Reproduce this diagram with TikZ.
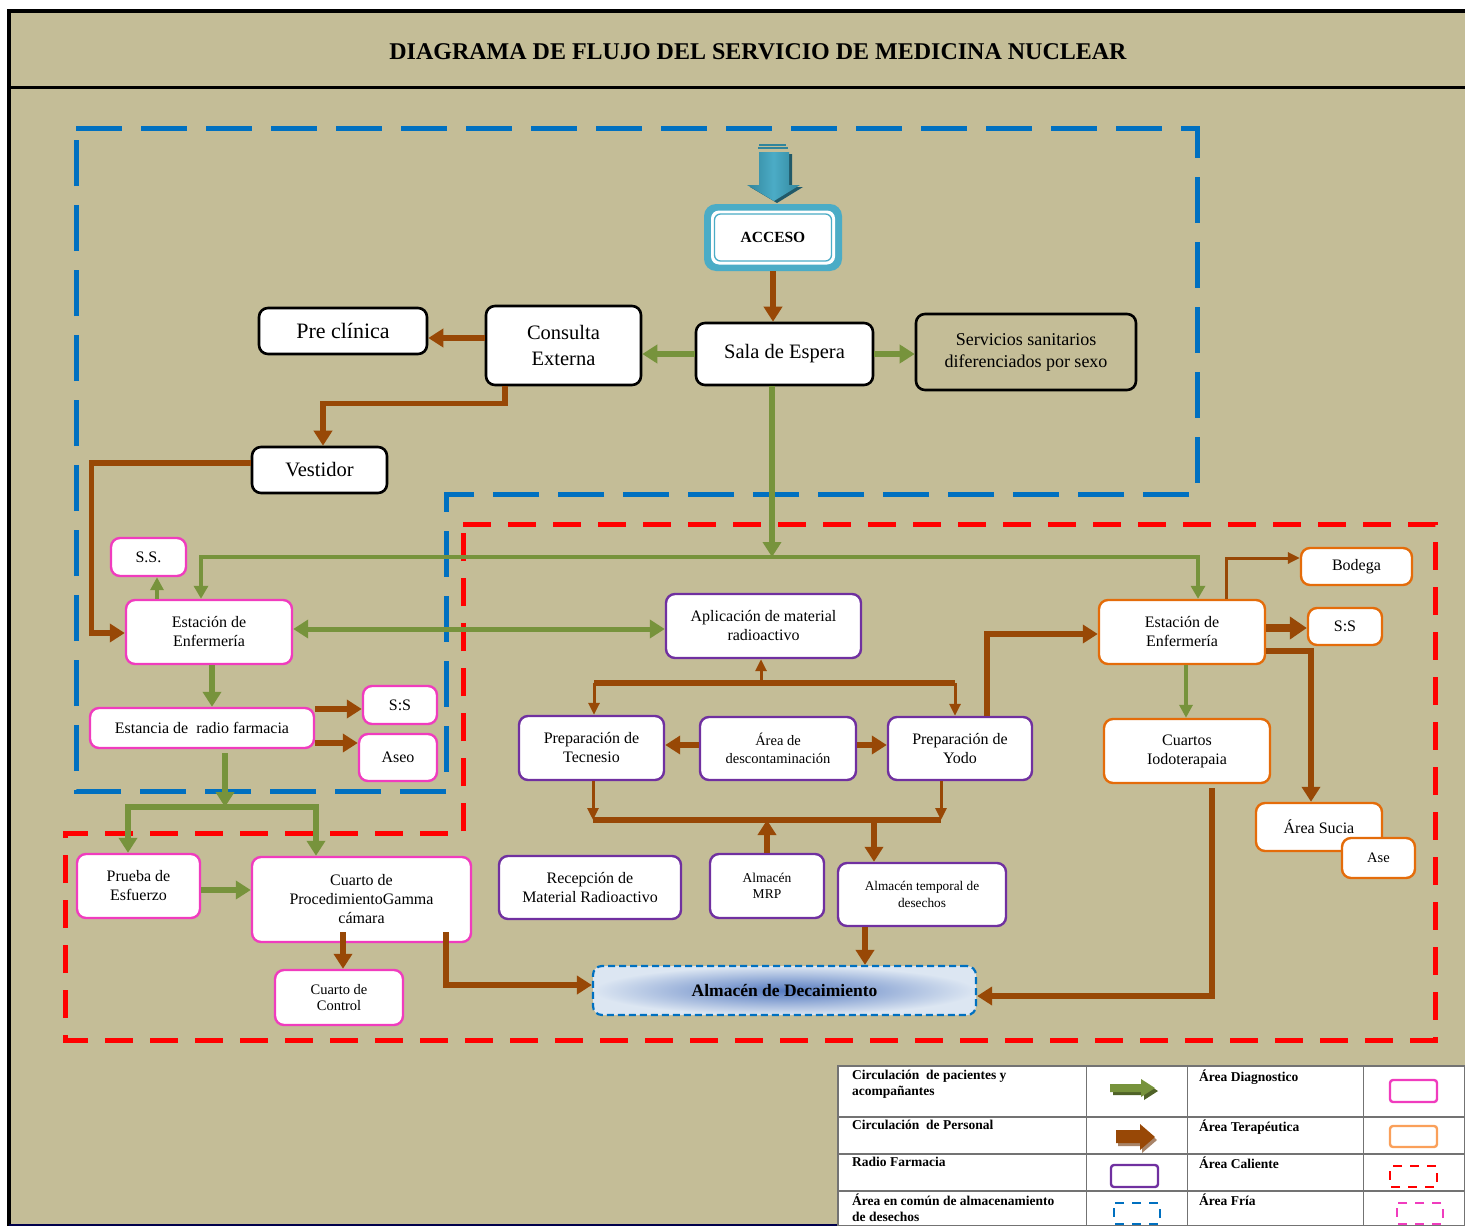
\documentclass[tikz,border=0pt]{standalone}
\usepackage{fontspec}
\setmainfont{Liberation Serif}
\usetikzlibrary{arrows.meta,calc}
\definecolor{bgtan}{RGB}{196,189,151}
\definecolor{cGreen}{RGB}{119,147,60}
\definecolor{cGreenD}{RGB}{79,98,40}
\definecolor{cBrown}{RGB}{152,72,6}
\definecolor{cBrownD}{RGB}{110,50,4}
\definecolor{cPink}{RGB}{240,60,190}
\definecolor{cPurple}{RGB}{112,48,160}
\definecolor{cOrange}{RGB}{228,108,10}
\definecolor{cOrangeL}{RGB}{250,160,90}
\definecolor{cBlue}{RGB}{0,112,192}
\definecolor{tealA}{RGB}{75,172,198}
\definecolor{tealB}{RGB}{49,133,156}
\definecolor{tealC}{RGB}{33,89,104}
\definecolor{decL}{RGB}{220,230,242}
\definecolor{decD}{RGB}{85,122,192}
\newcommand{\fs}[2]{\fontsize{#1}{#2}\selectfont}
\begin{document}
\begin{tikzpicture}[x=1pt,y=-1pt,
  bx/.style={rounded corners=9pt, fill=white, align=center, inner sep=1pt, text=black},
  nBlack/.style={bx, draw=black, line width=2.6pt},
  nPink/.style={bx, draw=cPink, line width=2.4pt, font=\fs{16}{19}},
  nPurple/.style={bx, draw=cPurple, line width=2.4pt, font=\fs{16}{19}},
  nOrange/.style={bx, draw=cOrange, line width=2.4pt, font=\fs{16}{19}},
  wh/.style 2 args={minimum width=#1pt, minimum height=#2pt},
  gT/.style={draw=cGreen, line width=5.5pt, -{Triangle[length=15pt,width=18pt]}},
  gTT/.style={draw=cGreen, line width=5pt, {Triangle[length=15pt,width=18pt]}-{Triangle[length=15pt,width=18pt]}},
  gM/.style={draw=cGreen, line width=4.5pt, -{Triangle[length=13pt,width=14pt]}},
  gS/.style={draw=cGreen, line width=3.8pt, -{Triangle[length=13pt,width=13pt]}},
  bT/.style={draw=cBrown, line width=5.5pt, -{Triangle[length=15pt,width=18pt]}},
  bTT/.style={draw=cBrown, line width=8pt, -{Triangle[length=17pt,width=22pt]}},
  bS/.style={draw=cBrown, line width=3pt, -{Triangle[length=12pt,width=11pt]}},
  bL/.style={draw=cBrown, line width=5.5pt},
  lgt/.style={anchor=north west, align=left, font=\bfseries\fs{13.5}{16}, inner sep=0pt},
  rgnBlue/.style={draw=cBlue, line width=5pt, dash pattern=on 46pt off 19pt},
  rgnRed/.style={draw=red, line width=5pt, dash pattern=on 28pt off 17pt},
]
\useasboundingbox (0,0) rectangle (1465,1226);
\fill[white] (0,0) rectangle (1465,1226);
\fill[bgtan] (9,10) rectangle (1465,1226);
\draw[black, line width=3.5pt] (1465,11) -- (9,11) -- (9,1226);
\draw[black, line width=3pt] (9,87) -- (1465,87);
\draw[black!70!blue, line width=1.5pt] (9,1225) -- (838,1225);
\node[font=\bfseries\fs{24}{24}] (title) at (758,52) {DIAGRAMA DE FLUJO DEL SERVICIO DE MEDICINA NUCLEAR};

% regions
\draw[rgnBlue] (76,128) -- (1197,128) -- (1197,494) -- (446,494) -- (446,791) -- (76,791) -- cycle;
\draw[rgnRed] (463,524) -- (1435,524) -- (1435,1040) -- (65,1040) -- (65,833) -- (463,833) -- cycle;

% access arrow
\fill[tealC] (762,154) -- (792,154) -- (792,187) -- (803,187) -- (777,203) -- (750,187) -- (762,187) -- cycle;
\shade[left color=tealB, right color=tealB, middle color=tealA] (759,152) -- (789,152) -- (789,185) -- (800,185) -- (774,201) -- (747,185) -- (759,185) -- cycle;
\draw[tealB, line width=1.5pt] (758,148) -- (788,148);
\draw[tealB, line width=1.5pt] (759,145) -- (786,145);

% access box
\node[fill=tealA, rounded corners=12pt, wh={138}{67}] (acc) at (773,237.5) {};
\node[fill=white, rounded corners=8pt, wh={124}{54}] (accw) at (acc) {};
\node[draw=tealA, line width=1.3pt, fill=white, rounded corners=6pt, wh={117}{47}, font=\bfseries\fs{15.5}{15}] (acct) at (acc) {ACCESO};

% black nodes
\node[nBlack, wh={177}{62}, font=\fs{20.5}{26}] (sala) at (784.5,354) {Sala de Espera};
\node[nBlack, wh={155}{79}, font=\fs{20.5}{26}] (cons) at (563.5,345.5) {Consulta\\Externa};
\node[nBlack, wh={168}{46}, font=\fs{22}{26}] (pre) at (343,331) {Pre clínica};
\node[nBlack, fill=bgtan, wh={220}{76}, font=\fs{18}{22}] (serv) at (1026,352) {Servicios sanitarios\\diferenciados por sexo};
\node[nBlack, wh={135}{46}, font=\fs{20.5}{26}] (vest) at (319.5,470) {Vestidor};

% pink nodes
\node[nPink, wh={75}{38}] (ssL) at (148.5,557) {S.S.};
\node[nPink, wh={166}{64}] (estL) at (209,632) {Estación de\\Enfermería};
\node[nPink, wh={224}{40}] (estan) at (202,728) {Estancia de\ \ radio farmacia};
\node[nPink, wh={74}{38}] (ssL2) at (400,705) {S:S};
\node[nPink, wh={78}{47}] (aseo) at (398,757.5) {Aseo};
\node[nPink, wh={123}{64}] (prueba) at (138.5,886) {Prueba de\\Esfuerzo};
\node[nPink, wh={219}{85}] (cuarto) at (361.5,899.5) {Cuarto de\\ProcedimientoGamma\\cámara};
\node[nPink, wh={128}{55}, font=\fs{14.5}{16}] (control) at (339,997.5) {Cuarto de\\Control};

% purple nodes
\node[nPurple, wh={195}{64}] (aplic) at (763.5,626) {Aplicación de material\\radioactivo};
\node[nPurple, wh={145}{64}] (tec) at (591.5,748) {Preparación de\\Tecnesio};
\node[nPurple, wh={156}{63}, font=\fs{14.5}{18}] (desc) at (778,748.5) {Área de\\descontaminación};
\node[nPurple, wh={144}{63}] (yodo) at (960,748.5) {Preparación de\\Yodo};
\node[nPurple, wh={182}{63}] (recep) at (590,887.5) {Recepción de\\Material Radioactivo};
\node[nPurple, wh={114}{64}, font=\fs{13.5}{16}] (mrp) at (767,886) {Almacén\\MRP};
\node[nPurple, wh={168}{63}, font=\fs{13.3}{17}] (temp) at (922,894.5) {Almacén temporal de\\desechos};

% orange nodes
\node[nOrange, wh={166}{64}] (estR) at (1182,632) {Estación de\\Enfermería};
\node[nOrange, wh={111}{37}] (bod) at (1356.5,566.5) {\raisebox{-3pt}{Bodega}};
\node[nOrange, wh={74}{37}] (ssR) at (1345,626.5) {S:S};
\node[nOrange, wh={166}{64}] (cuartos) at (1187,751) {Cuartos\\Iodoterapaia};
\node[nOrange, wh={126}{48}] (sucia) at (1319,827) {Área Sucia};
\node[nOrange, wh={73}{40}, font=\fs{14.5}{16}] (ase) at (1378.5,858) {Ase};

% decay storage
\node[draw=cBlue, line width=2.2pt, dash pattern=on 7pt off 4pt, rounded corners=9pt, wh={383}{49},
      shading=radial, inner color=decD, outer color=decL, font=\bfseries\fs{17.5}{17}] (decay) at (784.5,990.5) {Almacén de Decaimiento};

% connectors top
\draw[bT] (acc.south) -- (acc.south |- sala.north);
\draw[gT] (sala.west) -- (sala.west -| cons.east);
\draw[gT] (sala.east) -- (sala.east -| serv.west);
\draw[bT] ([yshift=7.5]cons.west) -- ([yshift=7.5]cons.west -| pre.east);
\draw[bT] ([xshift=-58.5]cons.south) -- ++(0,17) -| ([xshift=3.5]vest.north);
\draw[bT] ([yshift=7]vest.west) -- ++(-159,0) |- ([yshift=-1]estL.west);

% green bus
\coordinate (gbus) at (772,557);
\draw[gT] ([xshift=-12.5]sala.south) -- (gbus);
\draw[gM] (gbus) -| ([xshift=-8]estL.north);
\draw[gM] (gbus) -| ([xshift=16]estR.north);

% left cluster
\draw[gS] ([xshift=-52]estL.north) -- ([xshift=-52]estL.north |- ssL.south);
\draw[gTT] ([yshift=3]estL.east) -- ([yshift=3]estL.east -| aplic.west);
\draw[gT] ([xshift=3]estL.south) -- ([xshift=3]estL.south |- estan.north);
\draw[bT] ([yshift=19]estan.east) -- ([yshift=19]estan.east -| ssL2.west);
\draw[bT] ([yshift=-15]estan.east) -- ([yshift=-15]estan.east -| aseo.west);
\coordinate (gbus2) at (225,807);
\draw[gT] ([xshift=23,yshift=-4]estan.south) -- (gbus2);
\draw[gT] (gbus2) -| ([xshift=-10.5]prueba.north);
\draw[gT] (gbus2) -| ([xshift=-45.5]cuarto.north);
\draw[gT] ([yshift=-4]prueba.east) -- ([yshift=-4]prueba.east -| cuarto.west);
\draw[bT] ([xshift=-18.5,yshift=11]cuarto.south) -- ([xshift=-18.5]cuarto.south |- control.north);
\draw[bT] ([xshift=84.5,yshift=11]cuarto.south) |- ([yshift=5.5]decay.west);

% radio pharmacy tree
\coordinate (abus) at (761,683);
\draw[bL] ([xshift=2.5]tec.north |- abus) -- ([xshift=-5]yodo.north |- abus);
\draw[bS] (abus) -- (abus |- aplic.south);
\draw[bS] ([xshift=2.5]tec.north |- abus) -- ([xshift=2.5]tec.north);
\draw[bS] ([xshift=-5]yodo.north |- abus) -- ([xshift=-5]yodo.north);
\draw[bT] ([yshift=3.5]desc.west) -- ([yshift=3.5]desc.west -| tec.east);
\draw[bT] ([yshift=3.5]desc.east) -- ([yshift=3.5]desc.east -| yodo.west);
\coordinate (bbus) at (767,820);
\draw[bL] ([xshift=1.5]tec.south |- bbus) -- ([xshift=-19]yodo.south |- bbus);
\draw[bS] ([xshift=1.5]tec.south) -- ([xshift=1.5]tec.south |- bbus);
\draw[bS] ([xshift=-19]yodo.south) -- ([xshift=-19]yodo.south |- bbus);
\draw[bT] (mrp.north) -- (mrp.north |- bbus);
\draw[bT] ([xshift=-48]temp.north |- bbus) -- ([xshift=-48]temp.north);
\draw[bT] ([xshift=-57]temp.south) -- ([xshift=-57]temp.south |- decay.north);

% right cluster
\draw[bT] ([xshift=27]yodo.north) |- ([yshift=-2]estR.west);
\draw[bS] ([xshift=44]estR.north) |- ([yshift=8.5]bod.west);
\draw[bTT] ([yshift=4]estR.east) -- ([yshift=4]estR.east -| ssR.west);
\draw[bT] ([yshift=-19]estR.east) -| ([xshift=-8]sucia.north);
\draw[gS] ([xshift=4]estR.south) -- ([xshift=4]estR.south |- cuartos.north);
\draw[bT] ([xshift=25,yshift=-4]cuartos.south) |- ([yshift=-5.5]decay.east);

% legend
\fill[white] (838,1066) rectangle (1465,1226);
\draw[black!55, line width=1.6pt] (838,1066) rectangle (1465,1226);
\draw[black!55, line width=1.6pt] (838,1117) -- (1465,1117) (838,1154) -- (1465,1154) (838,1191) -- (1465,1191);
\draw[black!55, line width=1pt] (1086,1066) -- (1086,1226) (1187,1066) -- (1187,1226) (1363,1066) -- (1363,1226);
\node[lgt] (lg1) at (852,1070) {Circulación\ \ de pacientes y\\acompañantes};
\node[lgt] (lg2) at (852,1120) {Circulación\ \ de Personal};
\node[lgt] (lg3) at (852,1157) {Radio Farmacia};
\node[lgt] (lg4) at (852,1194) {Área en común de almacenamiento\\de desechos};
\node[lgt] (lg5) at (1199,1070) {Área Diagnostico};
\node[lgt] (lg6) at (1199,1120) {Área Terapéutica};
\node[lgt] (lg7) at (1199,1157) {Área Caliente};
\node[lgt] (lg8) at (1199,1194) {Área Fría};
% legend icons
\fill[cGreenD] (1113,1087) -- (1144,1087) -- (1144,1082) -- (1158,1091) -- (1144,1100) -- (1144,1095) -- (1113,1095) -- cycle;
\fill[cGreen] (1110,1084) -- (1141,1084) -- (1141,1079) -- (1155,1088) -- (1141,1097) -- (1141,1092) -- (1110,1092) -- cycle;
\fill[cBrownD!60] (1118,1133) -- (1142,1133) -- (1142,1127) -- (1157,1140) -- (1142,1153) -- (1142,1146) -- (1118,1146) -- cycle;
\fill[cBrown] (1116,1130) -- (1140,1130) -- (1140,1124) -- (1155,1137) -- (1140,1150) -- (1140,1143) -- (1116,1143) -- cycle;
\draw[cPink, line width=2.4pt, rounded corners=3pt] (1390,1080) rectangle (1437,1102);
\draw[cOrangeL, line width=2.4pt, rounded corners=3pt] (1390,1126) rectangle (1437,1147);
\draw[cPurple, line width=2.4pt, rounded corners=3pt] (1111,1165) rectangle (1158,1187);
\draw[red, line width=2.6pt, dash pattern=on 9pt off 8pt, dash phase=-5pt] (1390,1166) rectangle (1437,1187);
\draw[cBlue, line width=2.6pt, dash pattern=on 9pt off 8pt, dash phase=-5pt] (1114,1203) rectangle (1160,1224);
\draw[cPink, line width=2.6pt, dash pattern=on 9pt off 8pt, dash phase=-5pt] (1397,1203) rectangle (1443,1224);
\end{tikzpicture}
\end{document}
